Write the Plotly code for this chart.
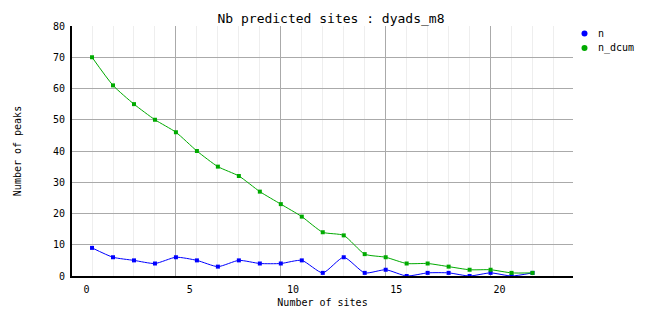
import plotly.graph_objects as go

# ---- data ----
sites = [0, 1, 2, 3, 4, 5, 6, 7, 8, 9, 10, 11, 12, 13, 14, 15, 16, 17, 18, 19, 20, 21]
n = [9, 6, 5, 4, 6, 5, 3, 5, 4, 4, 5, 1, 6, 1, 2, 0, 1, 1, 0, 1, 0, 1]
n_dcum = [70, 61, 55, 50, 46, 40, 35, 32, 27, 23, 19, 14, 13, 7, 6, 4, 4, 3, 2, 2, 1, 1]
x_tick_vals = [0, 5, 10, 15, 20]
x_tick_text = ["0", "5", "10", "15", "20"]
y_tick_vals = [0, 10, 20, 30, 40, 50, 60, 70, 80]
series_names = ["n", "n_dcum"]

title_text = "Nb predicted sites : dyads_m8"
x_title = "Number of sites"
y_title = "Number of peaks"

BLUE = "#0000ff"
GREEN = "#00aa00"
MONO = "DejaVu Sans Mono"
colors = [BLUE, GREEN]

W, H = 662, 328
L, R, T, B = 72, 89, 26, 52
PW, PH = W - L - R, H - T - B

fig = go.Figure()

for name, vals, col in zip(series_names, [n, n_dcum], colors):
    fig.add_trace(go.Scatter(
        x=sites, y=vals, mode="lines+markers", name=name,
        line=dict(color=col, width=1, shape="spline", smoothing=0.6),
        marker=dict(color=col, size=4, symbol="square"),
        showlegend=False, hoverinfo="skip",
    ))

# manual legend (marker dot + label), placed right of the plot area
for i, (name, col) in enumerate(zip(series_names, colors)):
    py = 33.5 + 14.5 * i
    yf = (H - B - py) / PH
    xf = (584.5 - L) / PW
    fig.add_shape(type="circle", xref="paper", yref="paper",
                  xsizemode="pixel", ysizemode="pixel",
                  xanchor=xf, yanchor=yf, x0=-3, x1=3, y0=-3, y1=3,
                  fillcolor=col, line=dict(color=col, width=0))
    fig.add_annotation(text=name, xref="paper", yref="paper",
                       x=(596 - L) / PW, y=yf, xanchor="left", yanchor="middle",
                       showarrow=False, font=dict(family=MONO, size=10, color="black"))

fig.update_layout(
    width=W, height=H,
    margin=dict(l=L, r=R, t=T, b=B),
    paper_bgcolor="white", plot_bgcolor="white",
    font=dict(family=MONO, size=10, color="black"),
    title=dict(text=title_text, x=0.5, xref="container", xanchor="center",
               y=1 - 18.5 / H, yref="container", yanchor="middle",
               font=dict(family=MONO, size=13, color="black")),
    showlegend=False,
    xaxis=dict(
        range=[-0.955, 22.93], tick0=4, dtick=5,
        showticklabels=False, ticks="",
        showgrid=True, gridcolor="#aaaaaa", gridwidth=1,
        minor=dict(dtick=1, tick0=0, showgrid=True, gridcolor="#eeeeee", gridwidth=1),
        zeroline=False, showline=True, linecolor="black", linewidth=2,
    ),
    xaxis2=dict(
        overlaying="x", side="bottom", anchor="y",
        range=[-0.70, 23.56], tickvals=x_tick_vals, ticktext=x_tick_text,
        showgrid=False, zeroline=False, showline=False,
        ticks="outside", ticklen=4, tickcolor="rgba(0,0,0,0)",
        title=dict(text=x_title, standoff=4, font=dict(family=MONO, size=10)),
        tickfont=dict(family=MONO, size=10),
    ),
    yaxis=dict(
        range=[0, 80], tickvals=y_tick_vals,
        showgrid=True, gridcolor="#aaaaaa", gridwidth=1,
        zeroline=False, showline=True, linecolor="black", linewidth=2,
        ticks="outside", ticklen=3, tickcolor="rgba(0,0,0,0)",
        tickfont=dict(family=MONO, size=10),
        title=dict(text=y_title, standoff=29, font=dict(family=MONO, size=10)),
    ),
)

# dummy trace to activate xaxis2
fig.add_trace(go.Scatter(x=[None], y=[None], xaxis="x2", showlegend=False, hoverinfo="skip"))

fig.write_html("out.html")
